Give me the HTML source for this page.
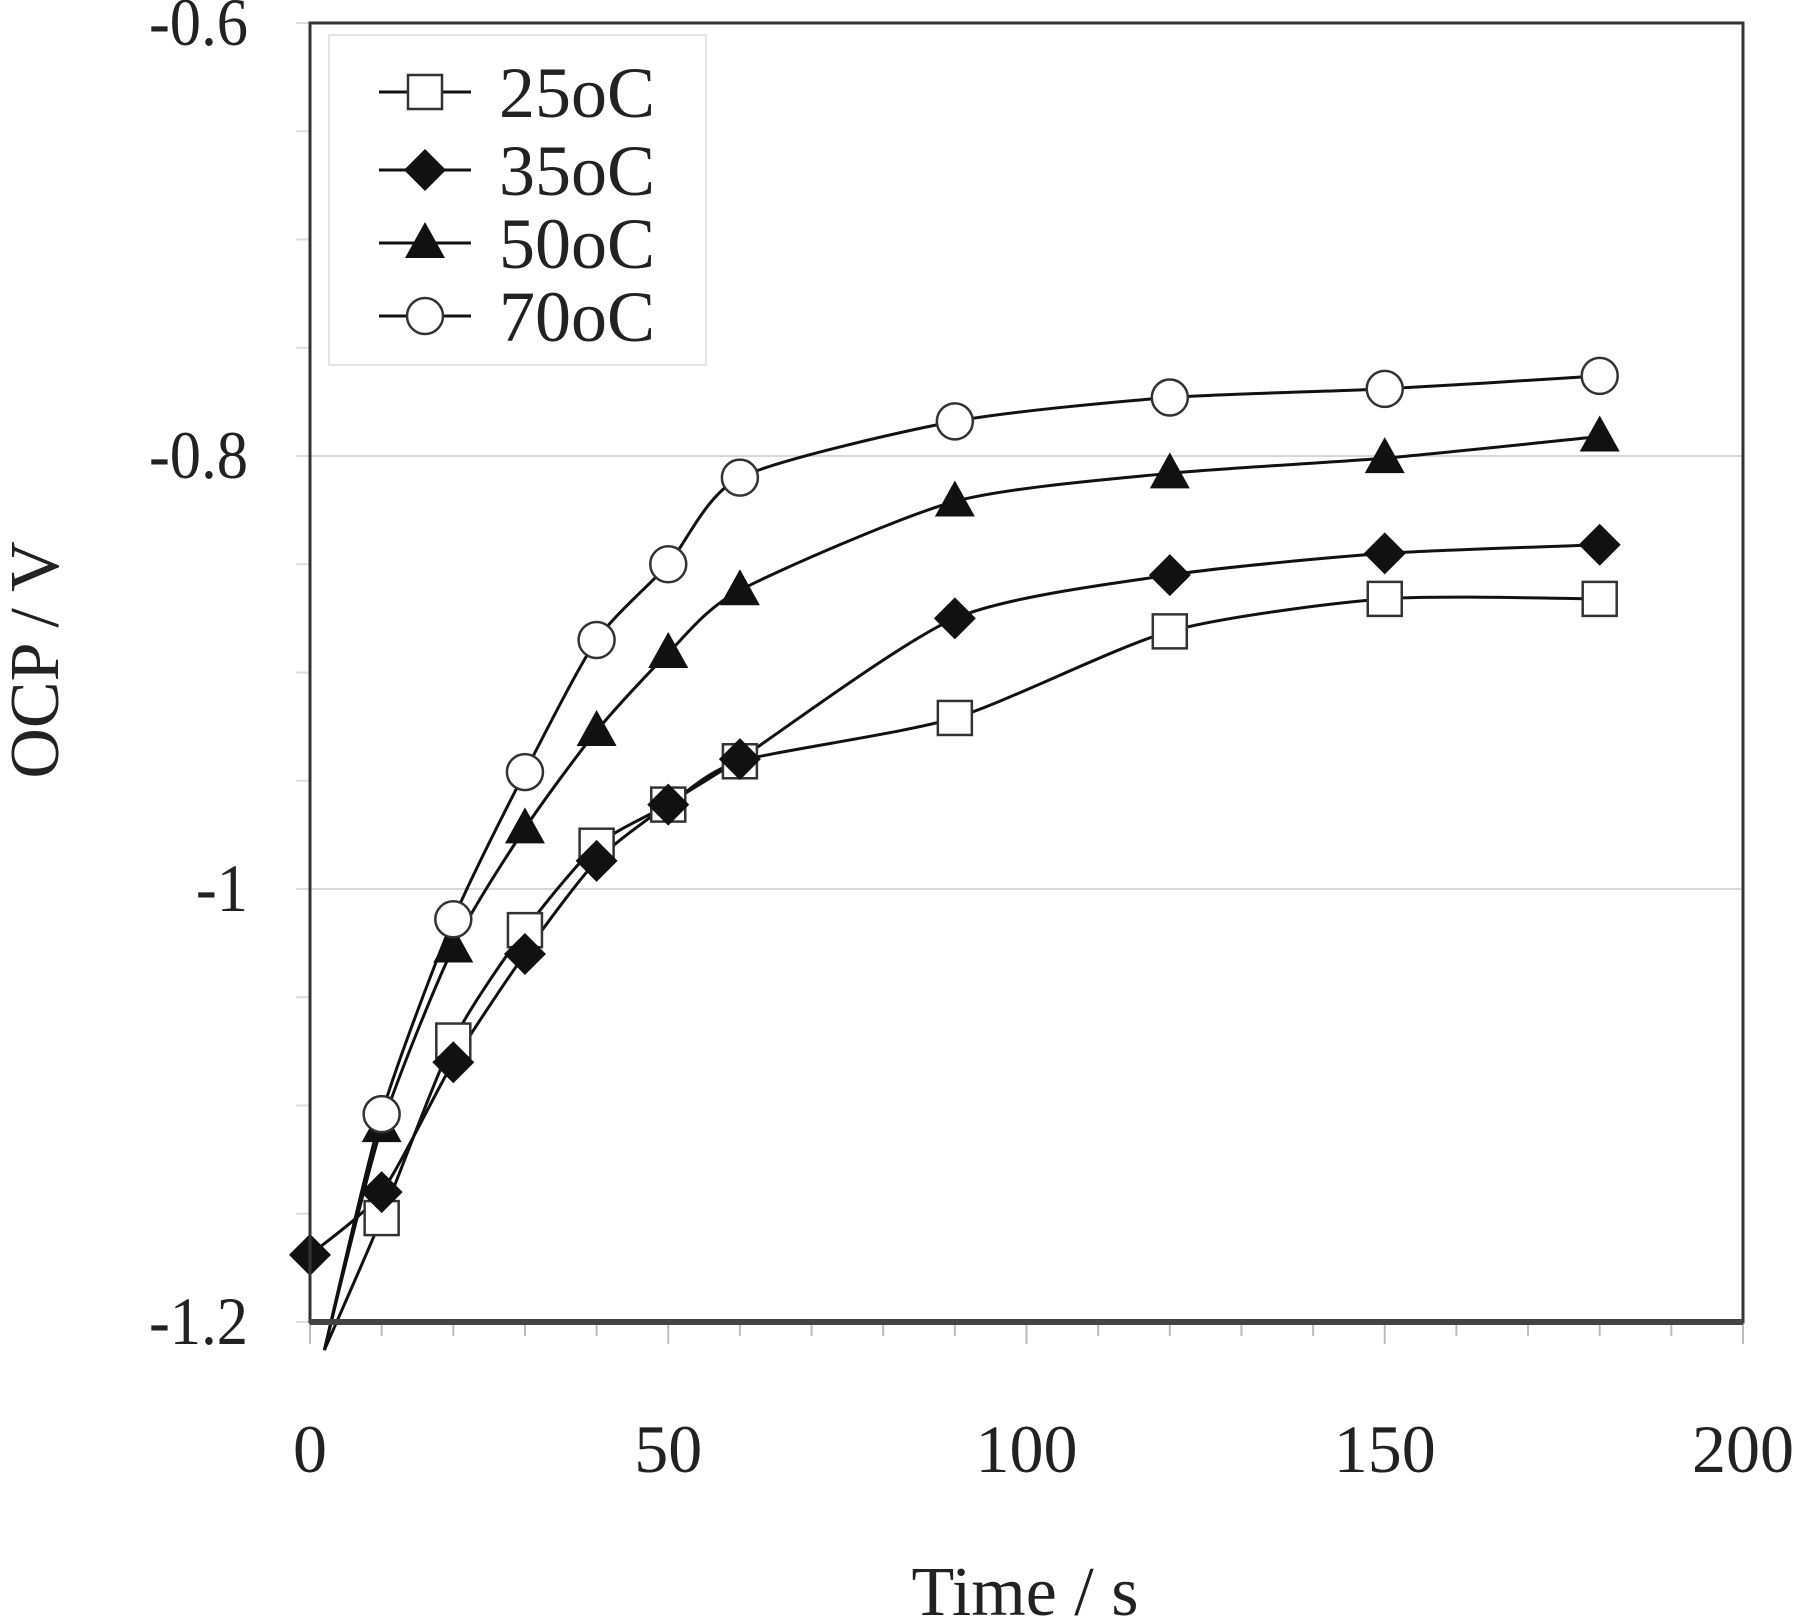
<!DOCTYPE html>
<html><head><meta charset="utf-8"><style>
html,body{margin:0;padding:0;background:#fff;}
svg{display:block;}
text{font-family:"Liberation Serif",serif;fill:#222;}
</style></head><body>
<svg id="s" width="1800" height="1621" viewBox="0 0 1800 1621" xmlns="http://www.w3.org/2000/svg"></svg>
<script>
var X0=310,X1=1743,Y06=23,Y12=1322;
function sx(t){return X0+(X1-X0)*t/200;}
function sy(v){return Y06+(-0.6-v)/0.6*(Y12-Y06);}
var h='';
[-0.8,-1.0].forEach(function(v){h+='<line x1="'+X0+'" x2="'+X1+'" y1="'+sy(v)+'" y2="'+sy(v)+'" stroke="#d8d8d8" stroke-width="2"/>';});
for(var v=-0.6;v>=-1.2001;v-=0.05){h+='<line x1="'+(X0-14)+'" x2="'+X0+'" y1="'+sy(v)+'" y2="'+sy(v)+'" stroke="#ddd" stroke-width="2"/>';}
for(var t=0;t<=200;t+=10){h+='<line x1="'+sx(t)+'" x2="'+sx(t)+'" y1="'+Y12+'" y2="'+(Y12+(t%50==0?22:14))+'" stroke="#bbb" stroke-width="2"/>';}
[['-0.6',-0.6],['-0.8',-0.8],['-1',-1.0],['-1.2',-1.2]].forEach(function(a){h+='<text x="248" y="'+(sy(a[1])+22)+'" font-size="68" text-anchor="end" transform="translate(248,0) scale(0.92,1) translate(-248,0)">'+a[0]+'</text>';});
[0,50,100,150,200].forEach(function(t){h+='<text x="'+sx(t)+'" y="1472" font-size="68" text-anchor="middle">'+t+'</text>';});
h+='<text x="1025" y="1615" font-size="70" text-anchor="middle">Time / s</text>';
h+='<text transform="translate(58,660) rotate(-90)" font-size="70" text-anchor="middle">OCP / V</text>';
var S=[
 {m:'sq',d:[[2,-1.213],[10,-1.152],[20,-1.070],[30,-1.019],[40,-0.980],[50,-0.961],[60,-0.941],[90,-0.921],[120,-0.881],[150,-0.866],[180,-0.866]],skip0:true},
 {m:'di',d:[[0,-1.169],[10,-1.140],[20,-1.080],[30,-1.030],[40,-0.987],[50,-0.961],[60,-0.940],[90,-0.875],[120,-0.855],[150,-0.845],[180,-0.841]]},
 {m:'tr',d:[[2,-1.213],[10,-1.110],[20,-1.027],[30,-0.972],[40,-0.927],[50,-0.891],[60,-0.862],[90,-0.821],[120,-0.808],[150,-0.801],[180,-0.791]],skip0:true},
 {m:'ci',d:[[2,-1.213],[10,-1.104],[20,-1.014],[30,-0.946],[40,-0.885],[50,-0.850],[60,-0.810],[90,-0.784],[120,-0.773],[150,-0.769],[180,-0.763]],skip0:true}
];
function path(pts){var p=pts.map(function(a){return [sx(a[0]),sy(a[1])];});var d='M'+p[0][0]+','+p[0][1];
 for(var i=0;i<p.length-1;i++){var p0=p[i-1]||p[i],p1=p[i],p2=p[i+1],p3=p[i+2]||p2;var k=0.12;
 d+=' C'+(p1[0]+(p2[0]-p0[0])*k)+','+(p1[1]+(p2[1]-p0[1])*k)+' '+(p2[0]-(p3[0]-p1[0])*k)+','+(p2[1]-(p3[1]-p1[1])*k)+' '+p2[0]+','+p2[1];}return d;}
function mk(m,x,y){
 if(m=='sq')return '<rect x="'+(x-17)+'" y="'+(y-17)+'" width="34" height="34" fill="#fff" stroke="#333" stroke-width="2.5"/>';
 if(m=='di')return '<polygon points="'+x+','+(y-21)+' '+(x+21)+','+y+' '+x+','+(y+21)+' '+(x-21)+','+y+'" fill="#111"/>';
 if(m=='tr')return '<polygon points="'+x+','+(y-21)+' '+(x+20)+','+(y+15)+' '+(x-20)+','+(y+15)+'" fill="#111"/>';
 return '<circle cx="'+x+'" cy="'+y+'" r="18" fill="#fff" stroke="#333" stroke-width="2.5"/>';}
S.forEach(function(s){h+='<path d="'+path(s.d)+'" fill="none" stroke="#111" stroke-width="3"/>';});
S.forEach(function(s){s.d.forEach(function(a,i){if(i==0&&s.skip0)return;h+=mk(s.m,sx(a[0]),sy(a[1]));});});
h+='<rect x="'+X0+'" y="'+Y06+'" width="'+(X1-X0)+'" height="'+(Y12-Y06)+'" fill="none" stroke="#333" stroke-width="3"/>';
h+='<line x1="'+X0+'" x2="'+X1+'" y1="'+Y12+'" y2="'+Y12+'" stroke="#444" stroke-width="6"/>';
h+='<rect x="329" y="35" width="377" height="330" fill="#fff" stroke="#e4e4e4" stroke-width="2"/>';
var L=[['sq','25oC',92],['di','35oC',170],['tr','50oC',243],['ci','70oC',316]];
L.forEach(function(l){h+='<line x1="379" x2="471" y1="'+l[2]+'" y2="'+l[2]+'" stroke="#111" stroke-width="3"/>'+mk(l[0],425,l[2])+'<text x="499" y="'+(l[2]+25)+'" font-size="72">'+l[1]+'</text>';});
document.getElementById('s').innerHTML=h;
</script>
</body></html>
